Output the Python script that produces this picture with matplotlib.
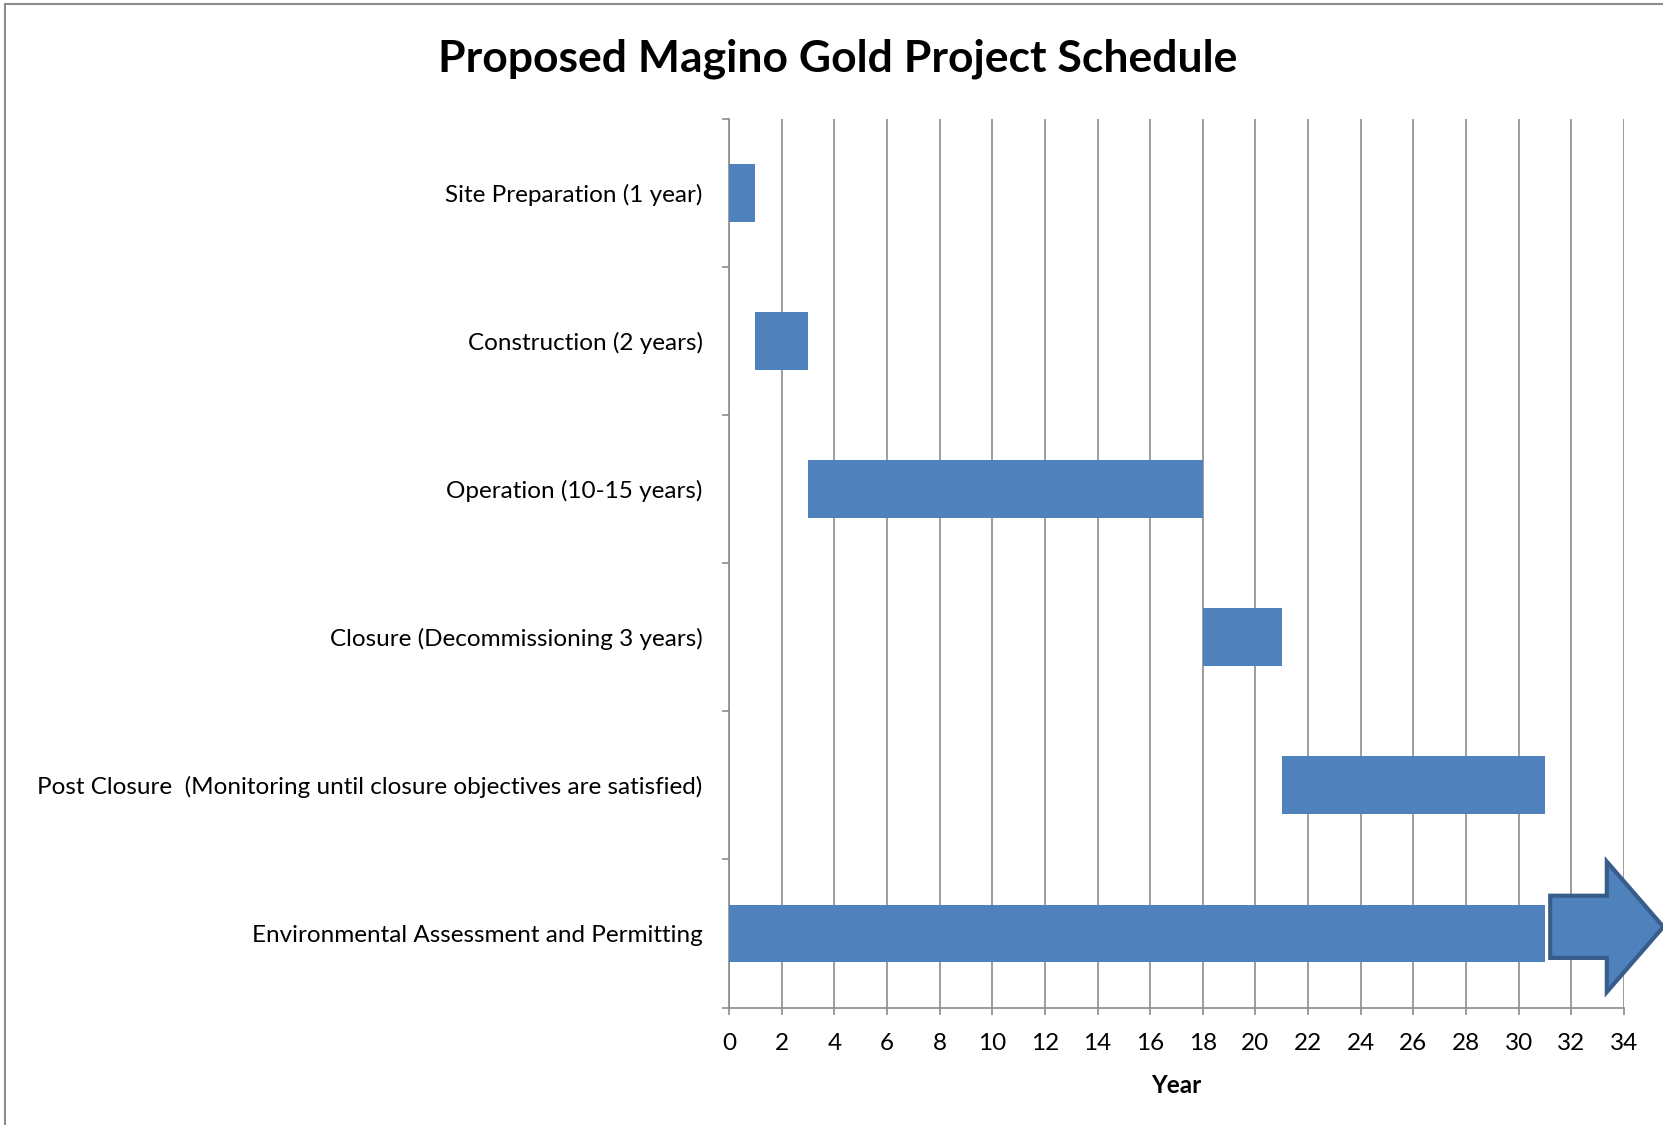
import matplotlib
matplotlib.use("Agg")
import matplotlib.pyplot as plt
from matplotlib.patches import Polygon, Rectangle

# schedule phases, top to bottom
phases = [
    "Site Preparation (1 year)",
    "Construction (2 years)",
    "Operation (10-15 years)",
    "Closure (Decommissioning 3 years)",
    "Post Closure  (Monitoring until closure objectives are satisfied)",
    "Environmental Assessment and Permitting",
]
starts = [0, 1, 3, 18, 21, 0]
durations = [1, 2, 15, 3, 10, 31]
# the permitting row keeps going past the chart: drawn as an arrow
arrow_len = 4.3

xticks = list(range(0, 35, 2))

BAR = "#4f81bd"
EDGE = "#385d8a"
GRID = "#8c8c8c"

plt.rcParams["font.family"] = ["Lato", "DejaVu Sans"]

fig = plt.figure(figsize=(16.63, 11.25), dpi=100)
ax = fig.add_axes([0.4384, 0.1044, 0.5381, 0.79])

n = len(phases)
ys = [n - 1 - i for i in range(n)]
ax.barh(ys, durations, left=starts, height=0.39, color=BAR, zorder=3)

# arrow continuing the last row
end = starts[-1] + durations[-1]
y0 = ys[-1] + 0.045
x0 = end + 0.2
xh = x0 + arrow_len * 0.5
xt = x0 + arrow_len
shaft, head = 0.21, 0.44
pts = [(x0, y0 - shaft), (xh, y0 - shaft), (xh, y0 - head), (xt, y0),
       (xh, y0 + head), (xh, y0 + shaft), (x0, y0 + shaft)]
ax.add_patch(Polygon(pts, closed=True, facecolor=BAR, edgecolor=EDGE,
                     lw=3, clip_on=False, zorder=4))

ax.set_xlim(0, 34)
ax.set_ylim(-0.5, n - 0.5)
ax.set_xticks(xticks)
ax.set_xticklabels([str(t) for t in xticks], fontsize=17.5)
ax.set_yticks(ys)
ax.set_yticklabels(phases, fontsize=17.5)
ax.set_yticks([y + 0.5 for y in range(-1, n)], minor=True)
ax.tick_params(axis="y", which="major", length=0, pad=19)
ax.tick_params(axis="y", which="minor", length=5, color=GRID, width=1.2)
ax.tick_params(axis="x", length=5, color=GRID, width=1.2, pad=13)
ax.xaxis.grid(True, color=GRID, lw=1.2, zorder=0)
ax.set_axisbelow(True)
for s in ("top", "right"):
    ax.spines[s].set_visible(False)
for s in ("left", "bottom"):
    ax.spines[s].set_color(GRID)
    ax.spines[s].set_linewidth(1.2)

ax.set_xlabel("Year", fontsize=17.5, fontweight="bold", labelpad=15)
fig.text(0.504, 0.948, "Proposed Magino Gold Project Schedule",
         ha="center", va="center", fontsize=32, fontweight="bold")

# chart border, cut off at right and bottom like the source
fig.patches.append(Rectangle((0.003, -0.05), 1.1, 1.0464, transform=fig.transFigure,
                             fill=False, edgecolor="#8c8c8c", lw=1.5))

fig.savefig("out.png", dpi=100)
